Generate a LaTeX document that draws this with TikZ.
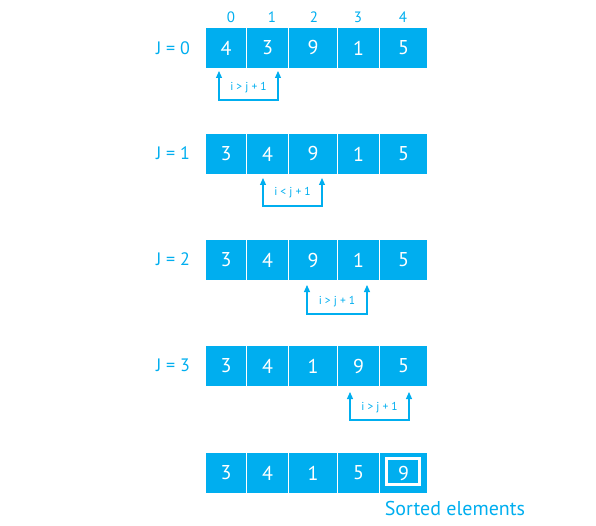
\documentclass[tikz,border=0pt]{standalone}
\usepackage{fontspec}
\setmainfont{PT Sans}
\usetikzlibrary{arrows.meta}
\definecolor{cy}{HTML}{00AEEF}
\begin{document}
\begin{tikzpicture}[x=1pt,y=-1pt,
  cellbox/.style={draw=white,line width=1pt,fill=cy,text=white,inner sep=0pt,minimum height=41pt,font=\fontsize{20}{20}\selectfont},
  rowlab/.style={text=cy,font=\fontsize{18}{18}\selectfont},
  idxlab/.style={text=cy,font=\fontsize{15}{15}\selectfont},
  cmplab/.style={text=cy,font=\fontsize{11.5}{11.5}\selectfont},
  cmparrow/.style={draw=cy,line width=1.1pt,{Triangle[length=7pt,width=6pt]}-{Triangle[length=7pt,width=6pt]}}
]
\useasboundingbox (0,0) rectangle (596,526);
% rows
\foreach \r/\yt/\vals in {0/27/{4,3,9,1,5},1/133/{3,4,9,1,5},2/239/{3,4,9,1,5},3/345/{3,4,1,9,5},4/452/{3,4,1,5,9}}{
  \foreach \v [count=\k from 0] in \vals {
    \pgfmathsetmacro{\xl}{{205,246,288,337,379}[\k]}
    \pgfmathsetmacro{\w}{{41,42,49,42,48}[\k]}
    \node[cellbox,minimum width=\w pt,anchor=north west] (r\r c\k) at (\xl,\yt) {\v};
  }
}
% index labels
\node[idxlab] (i0) at (231,17) {0};
\node[idxlab] (i1) at (272,17) {1};
\node[idxlab] (i2) at (314,17) {2};
\node[idxlab] (i3) at (358,17) {3};
\node[idxlab] (i4) at (403,17) {4};
% row labels
\node[rowlab] (j0) at (173,48) {J = 0};
\node[rowlab] (j1) at (173,153) {J = 1};
\node[rowlab] (j2) at (173,259) {J = 2};
\node[rowlab] (j3) at (173,365) {J = 3};
% sorted mark
\node[draw=white,line width=3pt,minimum width=33pt,minimum height=26pt,inner sep=0pt] (srt) at (403,471) {};
\node[text=cy,font=\fontsize{20}{20}\selectfont] (srtlab) at (455,508) {Sorted elements};
% comparison arrows
\coordinate (a0) at (219,71); \coordinate (b0) at (278,71);
\draw[cmparrow] (a0) -- (219,100) -- (278,100) -- (b0);
\node[cmplab] (c0) at (248.5,88) {i > j + 1};
\coordinate (a1) at (263,178); \coordinate (b1) at (322,178);
\draw[cmparrow] (a1) -- (263,206) -- (322,206) -- (b1);
\node[cmplab] (c1) at (292.5,193) {i < j + 1};
\coordinate (a2) at (307,285); \coordinate (b2) at (367,285);
\draw[cmparrow] (a2) -- (307,314) -- (367,314) -- (b2);
\node[cmplab] (c2) at (337,302) {i > j + 1};
\coordinate (a3) at (350,392); \coordinate (b3) at (409,392);
\draw[cmparrow] (a3) -- (350,420) -- (409,420) -- (b3);
\node[cmplab] (c3) at (379.5,408) {i > j + 1};
\end{tikzpicture}
\end{document}
